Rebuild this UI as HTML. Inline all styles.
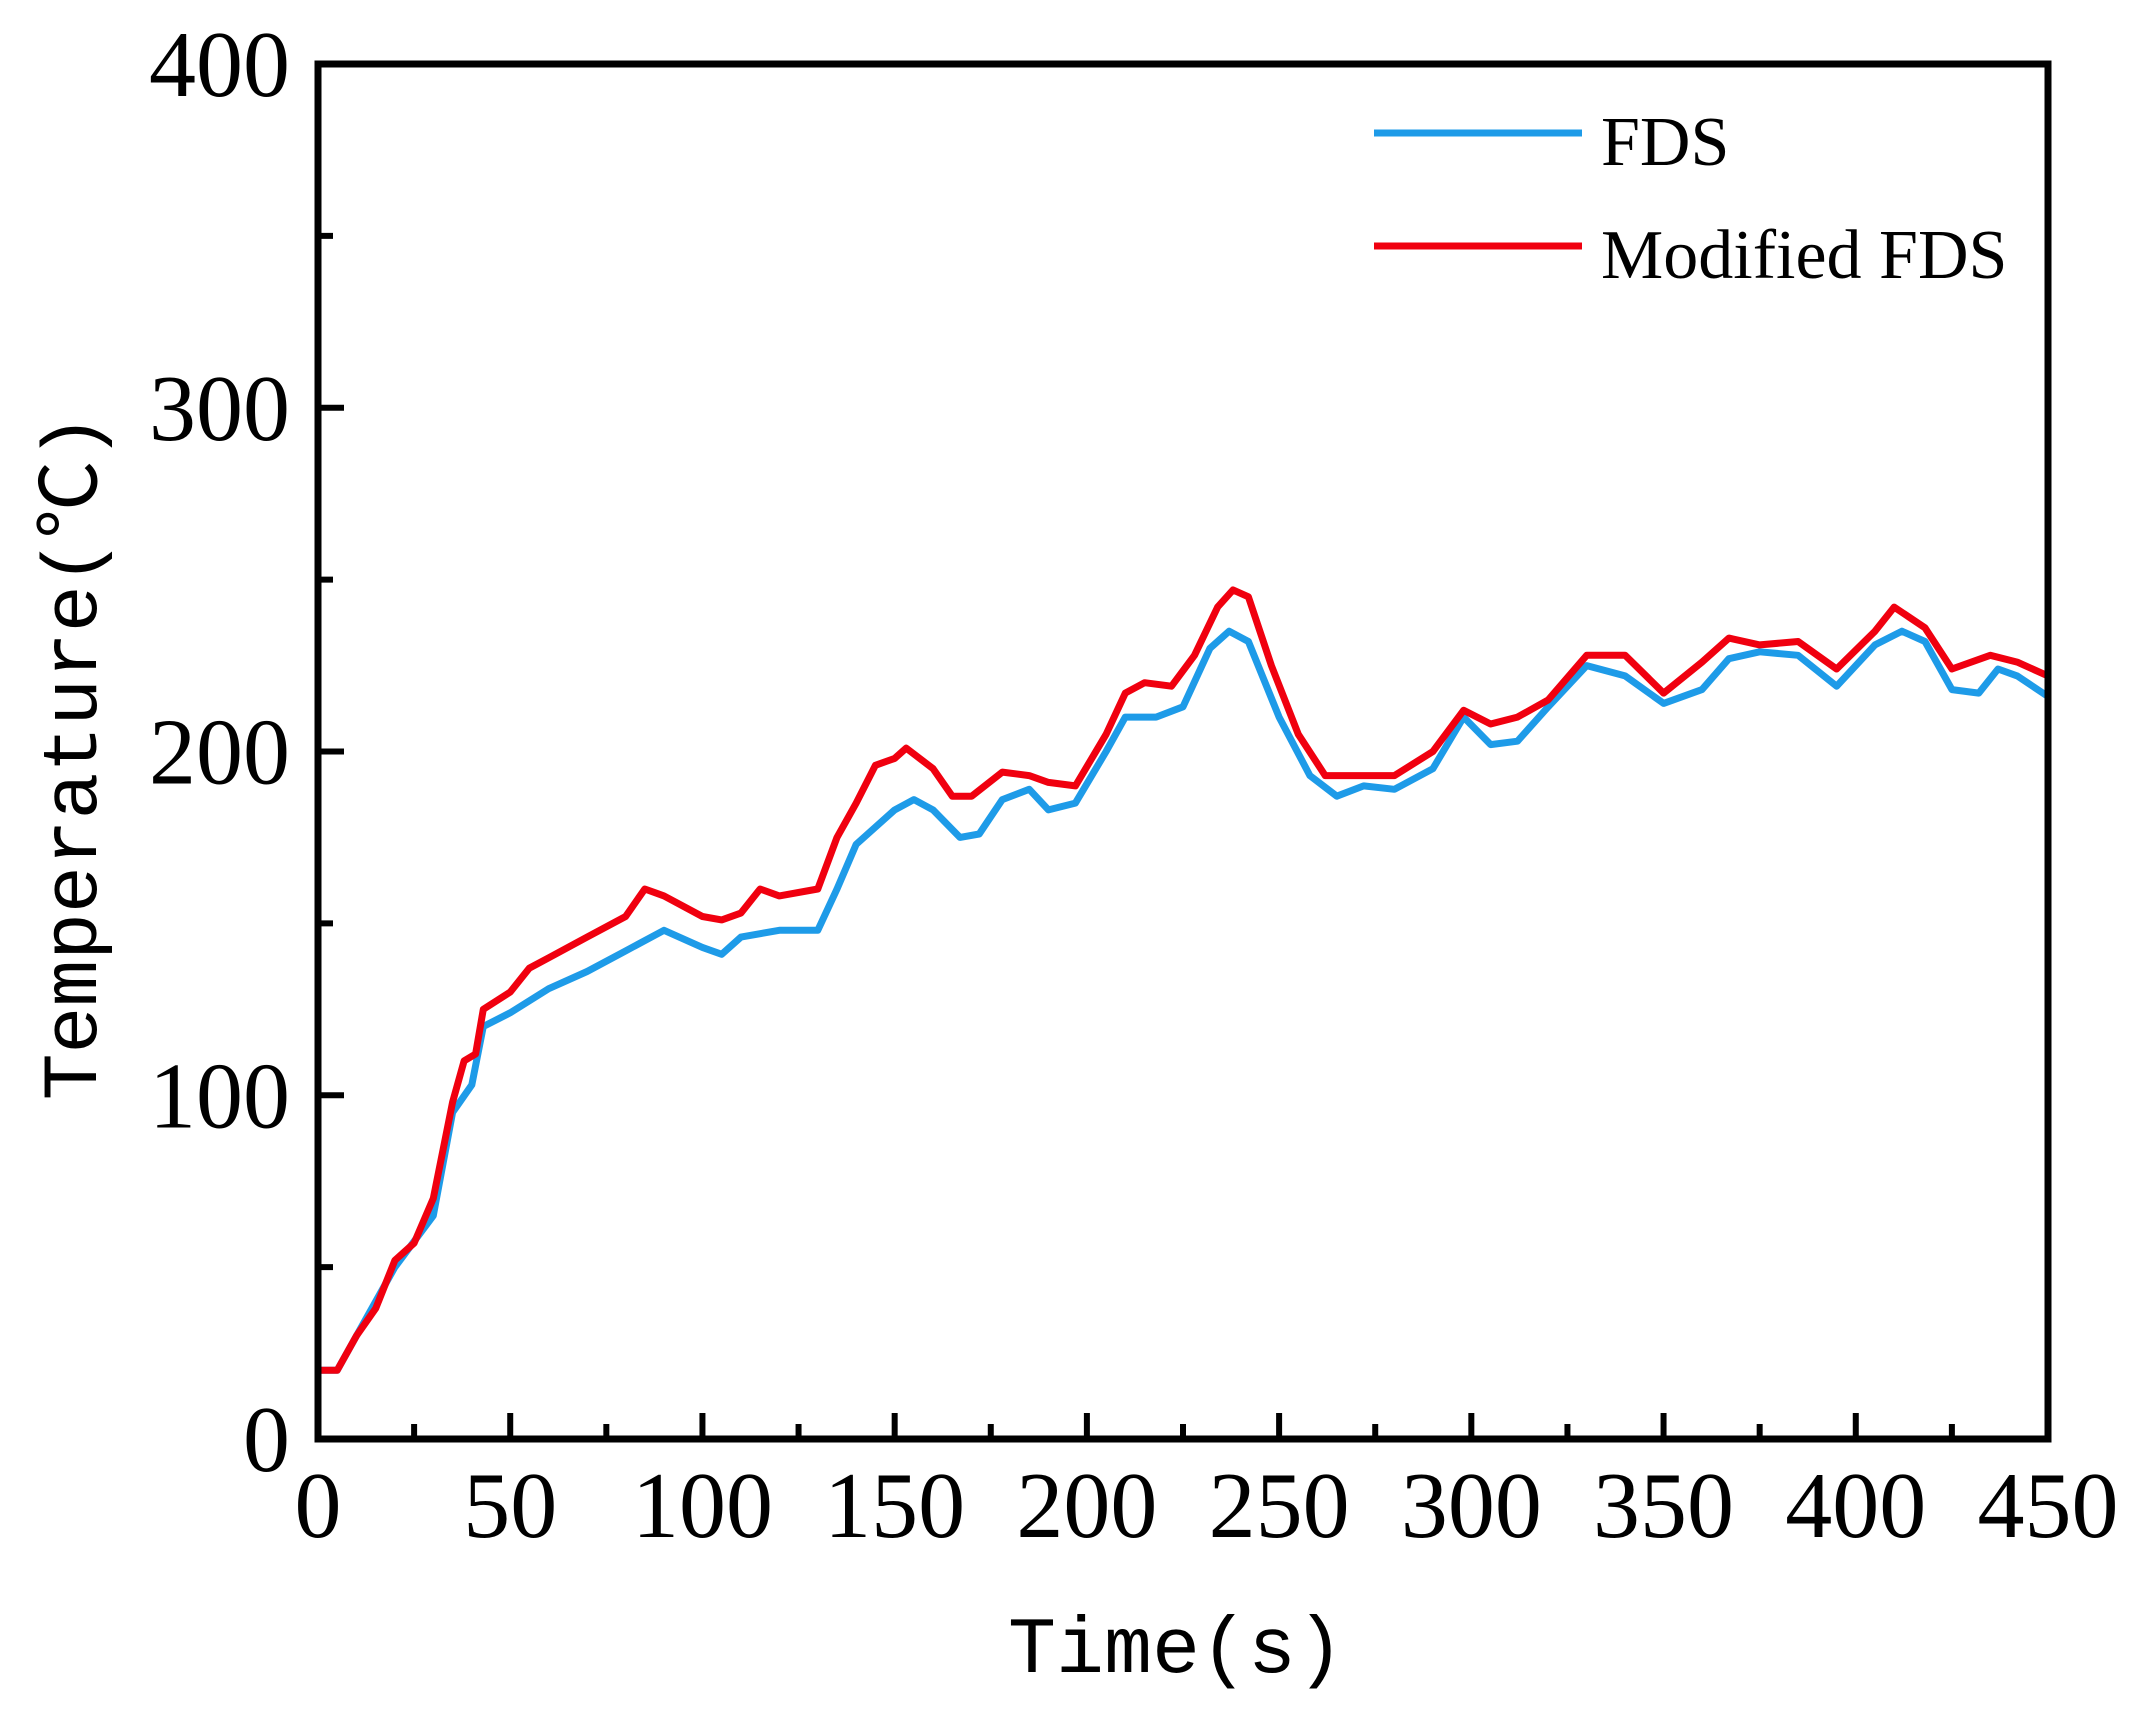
<!DOCTYPE html>
<html><head><meta charset="utf-8"><style>
body{margin:0;background:#fff}
svg{display:block}
text{font-family:"Liberation Serif",serif;fill:#000}
</style></head><body>
<svg id="chart" width="2139" height="1715" viewBox="0 0 2139 1715" xmlns="http://www.w3.org/2000/svg">
<g id="grid"></g>
<g id="series"></g>
<g id="axes"></g>
<g>
 <line x1="1374" y1="133" x2="1582" y2="133" stroke="#1e9be8" stroke-width="7"/>
 <text x="1601" y="165" font-size="70">FDS</text>
 <line x1="1374" y1="246" x2="1582" y2="246" stroke="#f0000f" stroke-width="7"/>
 <text x="1601" y="278" font-size="70">Modified FDS</text>
</g>
<text x="1176" y="1672" font-size="80" text-anchor="middle" style="font-family:'Liberation Mono',monospace">Time(s)</text>
<text transform="translate(96,757) rotate(-90)" font-size="78" text-anchor="middle" style="font-family:'Liberation Mono','Noto Sans CJK SC',monospace">Temperature(℃)</text>
</svg>
<script>
const fdsT=[0,5,10,20,30,35,40,43,50,60,70,80,90,100,105,110,120,130,135,140,150,155,160,167,172,178,185,190,197,205,210,218,225,232,237,242,250,258,265,272,280,290,298,305,312,320,330,340,350,360,367,375,385,395,405,412,418,425,432,437,442,450];
const fdsV=[20,20,30,50,65,95,103,120,124,131,136,142,148,143,141,146,148,148,160,173,183,186,183,175,176,186,189,183,185,200,210,210,213,230,235,232,210,193,187,190,189,195,210,202,203,213,225,222,214,218,227,229,228,219,231,235,232,218,217,224,222,216];
const modT=[0,5,10,15,20,25,30,35,38,41,43,50,55,60,65,70,80,85,90,100,105,110,115,120,130,135,140,145,150,153,160,165,170,178,185,190,197,205,210,215,222,228,234,238,242,248,255,262,270,280,290,298,305,312,320,330,340,350,360,367,375,385,395,405,410,418,425,435,442,450];
const modV=[20,20,30,38,52,57,70,98,110,112,125,130,137,140,143,146,152,160,158,152,151,153,160,158,160,175,185,196,198,201,195,187,187,194,193,191,190,205,217,220,219,228,242,247,245,225,205,193,193,193,200,212,208,210,215,228,228,217,226,233,231,232,224,235,242,236,224,228,226,222];
const xTicks=[0,50,100,150,200,250,300,350,400,450];
const yTicks=[0,100,200,300,400];
const L=318,R=2048,T=64,B=1439;
const xs=v=>L+(v/450)*(R-L);
const ys=v=>B-(v/400)*(B-T);
const NS="http://www.w3.org/2000/svg";
const ser=document.getElementById('series'),ax=document.getElementById('axes');
function mk(tag,attrs,parent){const e=document.createElementNS(NS,tag);for(const k in attrs)e.setAttribute(k,attrs[k]);parent.appendChild(e);return e;}
function line(T_,V,color,name){
 const p=T_.map((t,i)=>xs(t).toFixed(1)+','+ys(V[i]).toFixed(1)).join(' ');
 const el=mk('polyline',{points:p,fill:'none',stroke:color,'stroke-width':7,'stroke-linejoin':'round'},ser);
 
 
}
line(fdsT,fdsV,'#1e9be8','series-fds');
line(modT,modV,'#f0000f','series-modified-fds');
const frame=mk('rect',{x:L,y:T,width:R-L,height:B-T,fill:'none',stroke:'#000','stroke-width':7},ax);


xTicks.forEach((v,i)=>{
 const x=xs(v);
 const t=mk('line',{x1:x,y1:B,x2:x,y2:B-26,stroke:'#000','stroke-width':6},ax);
 
 
 if(i<xTicks.length-1){const xm=xs(v+25);const m=mk('line',{x1:xm,y1:B,x2:xm,y2:B-15,stroke:'#000','stroke-width':6},ax);
 
 }
 const lb=mk('text',{x:x,y:1537,'font-size':94,'text-anchor':'middle'},ax);lb.textContent=v;
 
 
});
yTicks.forEach((v,i)=>{
 const y=ys(v);
 const t=mk('line',{x1:L,y1:y,x2:L+26,y2:y,stroke:'#000','stroke-width':6},ax);
 
 
 if(i<yTicks.length-1){const ym=ys(v+50);const m=mk('line',{x1:L,y1:ym,x2:L+15,y2:ym,stroke:'#000','stroke-width':6},ax);
 
 }
 const lb=mk('text',{x:290,y:y+32,'font-size':94,'text-anchor':'end'},ax);lb.textContent=v;
 
 
});
</script>
</body></html>
